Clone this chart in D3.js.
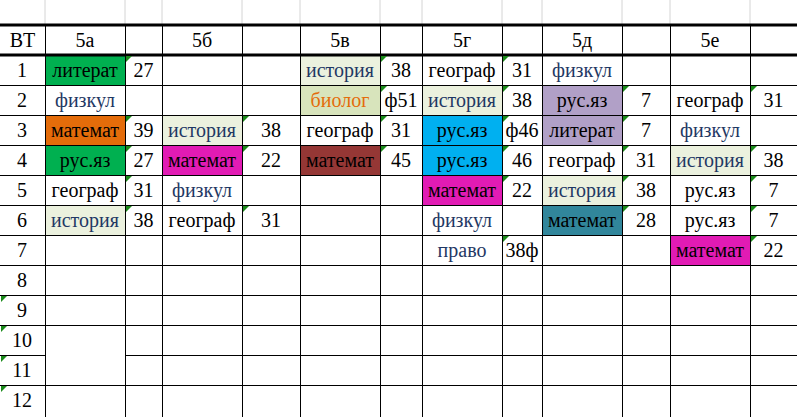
<!DOCTYPE html>
<html><head><meta charset="utf-8">
<script src="https://cdn.jsdelivr.net/npm/d3@7"></script>
<style>body{margin:0;background:#fff}svg{display:block}text{font-family:"Liberation Serif","Times New Roman",serif}</style>
</head><body>
<svg id="c" width="797" height="417"></svg>
<script>
// classes and periods
const classes = ["5а", "5б", "5в", "5г", "5д", "5е"];
const periods = d3.range(1, 13);

// subject / room per period (1..7)
const subj5a = ["литерат", "физкул", "математ", "рус.яз", "географ", "история", ""];
const room5a = ["27", "", "39", "27", "31", "38", ""];
const subj5b = ["", "", "история", "математ", "физкул", "географ", ""];
const room5b = ["", "", "38", "22", "", "31", ""];
const subj5v = ["история", "биолог", "географ", "математ", "", "", ""];
const room5v = ["38", "ф51", "31", "45", "", "", ""];
const subj5g = ["географ", "история", "рус.яз", "рус.яз", "математ", "физкул", "право"];
const room5g = ["31", "38", "ф46", "46", "22", "", "38ф"];
const subj5d = ["физкул", "рус.яз", "литерат", "географ", "история", "математ", ""];
const room5d = ["", "7", "7", "31", "38", "28", ""];
const subj5e = ["", "географ", "физкул", "история", "рус.яз", "рус.яз", "математ"];
const room5e = ["", "31", "", "38", "7", "7", "22"];

// cell fills (per class, per period)
const fill5a = ["#00b050", null, "#e46c0a", "#00b050", null, "#ebf1de", null];
const fill5b = [null, null, "#ebf1de", "#e11bb4", null, null, null];
const fill5v = ["#ebf1de", "#d8e4bc", null, "#953735", null, null, null];
const fill5g = [null, "#ebf1de", "#00b0f0", "#00b0f0", "#e11bb4", null, null];
const fill5d = [null, "#b1a0c7", "#b1a0c7", null, "#ebf1de", "#31869b", null];
const fill5e = [null, null, null, "#ebf1de", null, null, "#e11bb4"];

const subjColor = {"история": "#1f3864", "физкул": "#1f3864", "право": "#1f3864", "биолог": "#e46c0a"};

const subjects = [subj5a, subj5b, subj5v, subj5g, subj5d, subj5e];
const rooms = [room5a, room5b, room5v, room5g, room5d, room5e];
const fills = [fill5a, fill5b, fill5v, fill5g, fill5d, fill5e];

// layout
const colW = [45, 80, 37, 80, 58, 80, 42, 80, 40, 80, 48, 80, 47];
const colX = [0, ...d3.cumsum(colW)];
const topStrip = 25, headH = 30;
const y = d3.scaleBand().domain(periods).range([55, 415]);

const svg = d3.select("#c");
const cells = [];
classes.forEach((c, ci) => {
  for (let p = 0; p < 7; p++) {
    cells.push({col: 1 + ci * 2, p: p + 1, text: subjects[ci][p], fill: fills[ci][p], color: subjColor[subjects[ci][p]] || "#000"});
    cells.push({col: 2 + ci * 2, p: p + 1, text: rooms[ci][p], fill: null, color: "#000", num: true});
  }
});

// fills
svg.selectAll("rect.f").data(cells.filter(d => d.fill)).join("rect")
  .attr("x", d => colX[d.col]).attr("y", d => y(d.p))
  .attr("width", d => colW[d.col]).attr("height", y.bandwidth()).attr("fill", d => d.fill);

// light gridlines in top strip
svg.selectAll("line.t").data(colX.slice(1, -1)).join("line")
  .attr("x1", d => d).attr("x2", d => d).attr("y1", 0).attr("y2", topStrip).attr("stroke", "#d4d4d4");

// vertical lines
colX.slice(1, -1).forEach(x => {
  const merged = x === colX[2];
  svg.append("line").attr("x1", x + .5).attr("x2", x + .5).attr("y1", topStrip).attr("y2", 417).attr("stroke", "#000");
});
// horizontal lines
periods.slice(1).forEach(p => {
  const yy = Math.round(y(p)) + .5;
  if (p === 11) {
    svg.append("line").attr("x1", 0).attr("x2", colX[1]).attr("y1", yy).attr("y2", yy).attr("stroke", "#000");
    svg.append("line").attr("x1", colX[2]).attr("x2", 797).attr("y1", yy).attr("y2", yy).attr("stroke", "#000");
  } else {
    svg.append("line").attr("x1", 0).attr("x2", 797).attr("y1", yy).attr("y2", yy).attr("stroke", "#000");
  }
});
[topStrip, 55].forEach(yy => svg.append("line").attr("x1", 0).attr("x2", 797).attr("y1", yy).attr("y2", yy).attr("stroke", "#000").attr("stroke-width", 3));

// green comment triangles
const tri = cells.filter(d => d.num && d.text).map(d => ({x: colX[d.col] + 1, y: y(d.p) + 1}))
  .concat([9, 10, 11, 12].map(p => ({x: 1, y: y(p) + 1})));
svg.selectAll("path.tri").data(tri).join("path")
  .attr("d", d => `M${d.x},${d.y}h6l-6,6z`).attr("fill", "#1a8a1a");

// header
svg.append("text").attr("x", colW[0] / 2).attr("y", 40).attr("dy", "0.35em").attr("text-anchor", "middle")
  .attr("font-size", 20).text("ВТ");
svg.selectAll("text.h").data(classes).join("text")
  .attr("x", (d, i) => colX[1 + i * 2] + colW[1 + i * 2] / 2).attr("y", 40).attr("dy", "0.35em")
  .attr("text-anchor", "middle").attr("font-size", 20).text(d => d);

// period numbers
svg.selectAll("text.p").data(periods).join("text")
  .attr("x", 22).attr("y", d => y(d) + y.bandwidth() / 2).attr("dy", "0.35em")
  .attr("text-anchor", "middle").attr("font-size", 20).text(d => d);

// cell text
svg.selectAll("text.c").data(cells.filter(d => d.text)).join("text")
  .attr("x", d => colX[d.col] + colW[d.col] / 2).attr("y", d => y(d.p) + y.bandwidth() / 2).attr("dy", "0.35em")
  .attr("text-anchor", "middle").attr("font-size", 20).attr("fill", d => d.color).text(d => d.text)
  .each(function (d) {
    const w = this.getComputedTextLength();
    if (w > colW[d.col] - 1) d3.select(this).attr("textLength", colW[d.col] - 1).attr("lengthAdjust", "spacingAndGlyphs");
  });
</script>
</body></html>
